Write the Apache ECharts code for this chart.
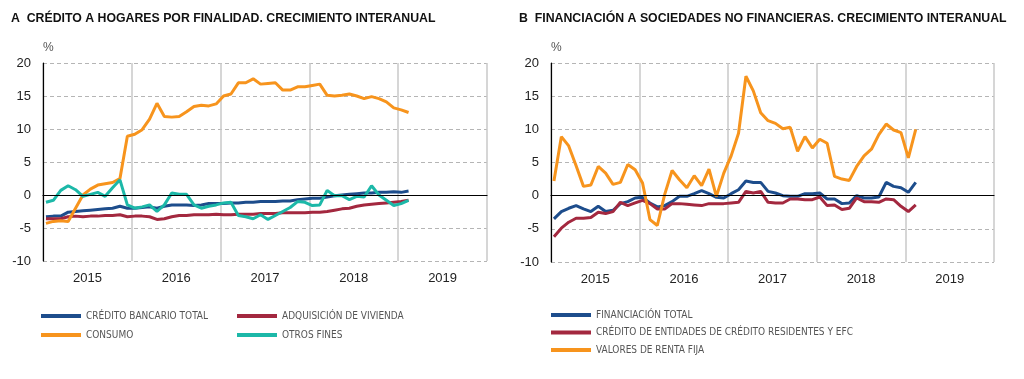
<!DOCTYPE html>
<html>
<head>
<meta charset="utf-8">
<title>Crédito y financiación</title>
<script src="https://cdn.jsdelivr.net/npm/echarts@6/dist/echarts.min.js"></script>
<style>
  html, body { margin: 0; padding: 0; background: #fff; }
  #chart { width: 1024px; height: 379px; }
</style>
</head>
<body>
<div id="chart"></div>
<script>
// meses ene-2015 .. feb-2019, eje x en meses desde ene-2015
var years = ["2015", "2016", "2017", "2018", "2019"];
var yTicks = [-10, -5, 0, 5, 10, 15, 20];

// A. Crédito a hogares por finalidad
var creditoBancarioTotal = [
  -3.3, -3.2, -3.2, -2.6, -2.5, -2.4, -2.3, -2.2, -2.1, -2.0,
  -1.7, -2.0, -2.0, -1.9, -1.8, -2.0, -1.7, -1.5, -1.5, -1.5,
  -1.6, -1.5, -1.3, -1.3, -1.3, -1.2, -1.2, -1.1, -1.1, -1.0,
  -1.0, -1.0, -0.9, -0.9, -0.7, -0.6, -0.5, -0.5, -0.3, -0.1,
  0.0, 0.1, 0.2, 0.3, 0.3, 0.4, 0.4, 0.5, 0.4, 0.6
];
var adquisicionVivienda = [
  -3.6, -3.6, -3.6, -3.3, -3.2, -3.3, -3.2, -3.2, -3.1, -3.1,
  -3.0, -3.3, -3.2, -3.2, -3.3, -3.7, -3.6, -3.3, -3.1, -3.1,
  -3.0, -3.0, -3.0, -2.9, -3.0, -3.0, -2.9, -2.9, -2.9, -2.8,
  -2.8, -2.8, -2.7, -2.7, -2.7, -2.7, -2.6, -2.6, -2.5, -2.3,
  -2.1, -2.0, -1.7, -1.5, -1.4, -1.3, -1.2, -1.1, -1.0, -0.8
];
var consumo = [
  -4.3, -4.0, -3.9, -4.0, -2.0, 0.0, 0.9, 1.5, 1.7, 1.9,
  2.5, 8.9, 9.2, 9.9, 11.5, 13.9, 11.9, 11.8, 11.9, 12.6,
  13.4, 13.6, 13.5, 13.8, 15.0, 15.3, 17.0, 17.0, 17.6, 16.8,
  16.9, 17.0, 15.9, 15.9, 16.4, 16.4, 16.6, 16.8, 15.1, 15.0,
  15.1, 15.3, 15.0, 14.6, 14.9, 14.6, 14.1, 13.2, 12.9, 12.5
];
var otrosFines = [
  -1.1, -0.8, 0.7, 1.4, 0.8, -0.2, 0.1, 0.4, -0.2, 1.1,
  2.3, -1.5, -2.0, -1.8, -1.5, -2.5, -1.5, 0.3, 0.1, 0.1,
  -1.5, -2.0, -1.7, -1.5, -1.2, -1.1, -3.1, -3.3, -3.6, -3.0,
  -3.7, -3.1, -2.5, -1.9, -1.0, -1.1, -1.6, -1.5, 0.7, -0.1,
  -0.1, -0.7, -0.2, -0.3, 1.4, 0.0, -0.8, -1.6, -1.3, -0.8
];

// B. Financiación a sociedades no financieras
var financiacionTotal = [
  -3.5, -2.4, -1.9, -1.5, -2.0, -2.4, -1.6, -2.4, -2.2, -1.2,
  -0.9, -0.35, -0.25, -1.1, -1.7, -1.5, -0.9, -0.1, -0.1, 0.3,
  0.75, 0.3, -0.25, -0.35, 0.3, 0.9, 2.2, 2.0, 2.0, 0.65,
  0.4, 0.0, -0.1, -0.1, 0.3, 0.3, 0.4, -0.5, -0.5, -1.2,
  -1.1, 0.0, -0.35, -0.35, -0.2, 2.0, 1.4, 1.2, 0.5, 2.0
];
var creditoEntidades = [
  -6.2, -4.9, -4.0, -3.4, -3.4, -3.3, -2.5, -2.7, -2.4, -1.0,
  -1.5, -1.1, -0.7, -1.2, -2.0, -2.0, -1.2, -1.2, -1.3, -1.4,
  -1.5, -1.2, -1.2, -1.2, -1.1, -1.0, 0.65, 0.4, 0.65, -1.0,
  -1.1, -1.1, -0.5, -0.5, -0.6, -0.6, -0.2, -1.5, -1.4, -2.1,
  -1.9, -0.35, -0.9, -0.9, -1.0, -0.5, -0.6, -1.6, -2.4, -1.4
];
var valoresRentaFija = [
  2.2, 8.9, 7.5, 4.5, 1.4, 1.6, 4.4, 3.4, 1.7, 2.0,
  4.7, 3.9, 1.9, -3.6, -4.5, 0.2, 3.8, 2.4, 1.2, 3.0,
  1.5, 4.0, -0.1, 3.4, 6.0, 9.4, 18.0, 15.8, 12.5, 11.3,
  10.9, 10.1, 10.3, 6.7, 8.9, 7.2, 8.5, 7.9, 2.9, 2.5,
  2.3, 4.4, 6.0, 7.0, 9.2, 10.8, 9.9, 9.5, 5.7, 10.0
];

var colors = {
  azul: "#1d4d8c",
  granate: "#a3283f",
  naranja: "#f7941d",
  turquesa: "#1cb8a8"
};

function toXY(arr) {
  // cada punto a mitad de su mes
  return arr.map(function(v, i) {
    return [i + 0.4, v];
  });
}

var legendFont = "'DejaVu Sans Condensed', 'Liberation Sans Narrow', sans-serif";
var baseFont = "'Liberation Sans', Arial, sans-serif";

function gridAxes(gridIndex) {
  return [
    {
      type: "value",
      gridIndex: gridIndex,
      min: 0,
      max: 60,
      interval: 12,
      axisLine: { show: true, lineStyle: { color: "#000", width: 1.2 } },
      axisTick: { show: false },
      axisLabel: { show: false },
      splitLine: { show: true, lineStyle: { color: "#c8c8c8", width: 1.5 } }
    },
    {
      type: "value",
      gridIndex: gridIndex,
      position: "bottom",
      min: 0,
      max: 60,
      interval: 6,
      axisLine: { show: false },
      axisTick: { show: false },
      splitLine: { show: false },
      axisLabel: {
        show: true,
        margin: 11,
        color: "#222",
        fontSize: 13,
        fontFamily: baseFont,
        formatter: function(v) {
          if (v % 12 === 6) return years[(v - 6) / 12];
          return "";
        }
      }
    }
  ];
}

function yAxisFor(gridIndex) {
  return {
    type: "value",
    gridIndex: gridIndex,
    min: yTicks[0],
    max: yTicks[yTicks.length - 1],
    interval: 5,
    name: "%",
    nameLocation: "end",
    nameGap: 9,
    nameTextStyle: {
      color: "#555",
      fontSize: 12,
      align: "left",
      fontFamily: baseFont
    },
    axisLine: { show: true, lineStyle: { color: "#000", width: 1.2 } },
    axisTick: { show: false },
    axisLabel: {
      color: "#222",
      fontSize: 13,
      margin: 12,
      fontFamily: baseFont
    },
    splitLine: {
      show: true,
      lineStyle: { color: "#b5b5b5", type: [4, 3], width: 1 }
    }
  };
}

function lineSeries(name, data, color, xIdx, yIdx, zero) {
  var s = {
    name: name,
    type: "line",
    xAxisIndex: xIdx,
    yAxisIndex: yIdx,
    data: toXY(data),
    symbol: "none",
    lineStyle: { color: color, width: 3 },
    itemStyle: { color: color },
    emphasis: { disabled: true },
    animation: false
  };
  if (zero) {
    // linea del cero, solo hasta 2019
    s.markLine = {
      silent: true,
      symbol: "none",
      label: { show: false },
      lineStyle: { color: "#000", width: 1.2, type: "solid" },
      data: [[{ coord: [0, 0] }, { coord: [48, 0] }]]
    };
  }
  return s;
}

var chart = echarts.init(document.getElementById("chart"), null, { renderer: "canvas" });

var titleStyle = {
  color: "#111",
  fontSize: 12.3,
  fontWeight: "bold",
  fontFamily: baseFont
};

var legendText = { color: "#555", fontSize: 10, fontFamily: legendFont };

var option = {
  backgroundColor: "#fff",
  animation: false,
  title: [
    { text: "A  CRÉDITO A HOGARES POR FINALIDAD. CRECIMIENTO INTERANUAL", left: 11, top: 13, textStyle: titleStyle, padding: 0 },
    { text: "B  FINANCIACIÓN A SOCIEDADES NO FINANCIERAS. CRECIMIENTO INTERANUAL", left: 519, top: 13, textStyle: titleStyle, padding: 0 }
  ],
  grid: [
    { left: 43, top: 63, width: 444, height: 198 },
    { left: 551, top: 63, width: 443, height: 199 }
  ],
  xAxis: gridAxes(0).concat(gridAxes(1)),
  yAxis: [yAxisFor(0), yAxisFor(1)],
  legend: [
    {
      data: ["CRÉDITO BANCARIO TOTAL", "CONSUMO"],
      orient: "vertical", left: 41, top: 311, itemGap: 9,
      itemWidth: 40, itemHeight: 4, icon: "rect", padding: 0,
      selectedMode: false,
      textStyle: legendText
    },
    {
      data: ["ADQUISICIÓN DE VIVIENDA", "OTROS FINES"],
      orient: "vertical", left: 237, top: 311, itemGap: 9,
      itemWidth: 40, itemHeight: 4, icon: "rect", padding: 0,
      selectedMode: false,
      textStyle: legendText
    },
    {
      data: ["FINANCIACIÓN TOTAL", "CRÉDITO DE ENTIDADES DE CRÉDITO RESIDENTES Y EFC", "VALORES DE RENTA FIJA"],
      orient: "vertical", left: 551, top: 310, itemGap: 7.5,
      itemWidth: 40, itemHeight: 4, icon: "rect", padding: 0,
      selectedMode: false,
      textStyle: legendText
    }
  ],
  series: [
    lineSeries("CRÉDITO BANCARIO TOTAL", creditoBancarioTotal, colors.azul, 0, 0, true),
    lineSeries("ADQUISICIÓN DE VIVIENDA", adquisicionVivienda, colors.granate, 0, 0),
    lineSeries("CONSUMO", consumo, colors.naranja, 0, 0),
    lineSeries("OTROS FINES", otrosFines, colors.turquesa, 0, 0),
    lineSeries("FINANCIACIÓN TOTAL", financiacionTotal, colors.azul, 2, 1, true),
    lineSeries("CRÉDITO DE ENTIDADES DE CRÉDITO RESIDENTES Y EFC", creditoEntidades, colors.granate, 2, 1),
    lineSeries("VALORES DE RENTA FIJA", valoresRentaFija, colors.naranja, 2, 1)
  ]
};

chart.setOption(option);
</script>
</body>
</html>
